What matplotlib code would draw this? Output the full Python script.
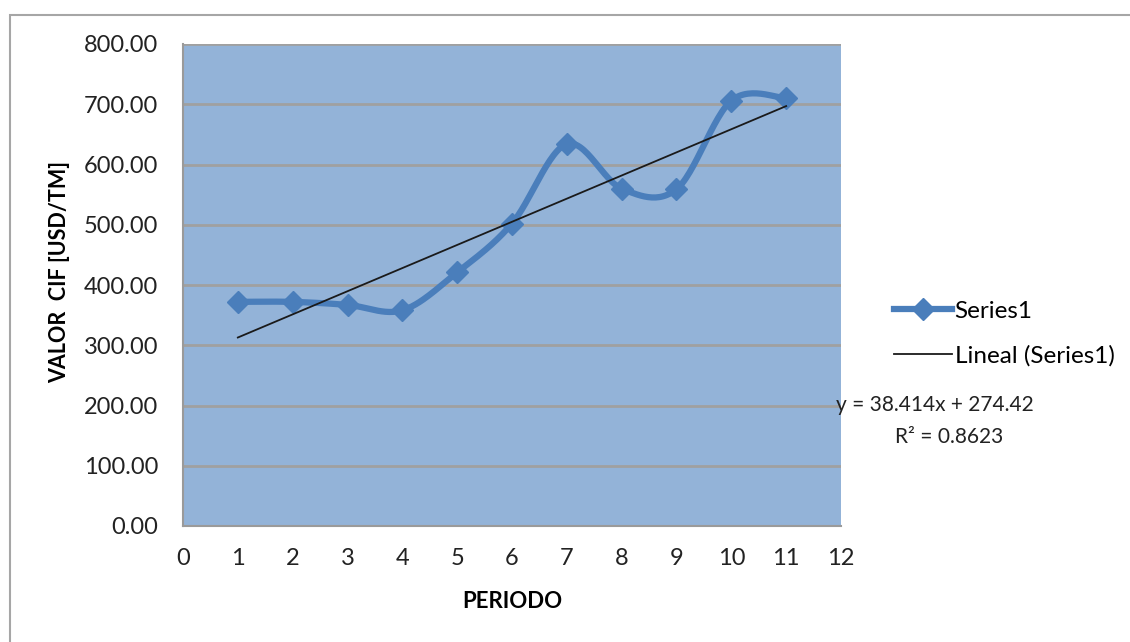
import numpy as np
import matplotlib.pyplot as plt
from matplotlib.lines import Line2D
from matplotlib.patches import Rectangle

plt.rcParams['font.family'] = ['Lato', 'DejaVu Sans']

# Datos: valor CIF por periodo
periodos = [1, 2, 3, 4, 5, 6, 7, 8, 9, 10, 11]
valor_cif = [372, 372, 367, 358, 421, 502, 634, 560, 559, 706, 710]

# Linea de tendencia (ajuste lineal)
pendiente = 38.414
intercepto = 274.42
r2 = 0.8623

y_ticks = [0, 100, 200, 300, 400, 500, 600, 700, 800]
x_ticks = list(range(0, 13))

AZUL = '#4A7EBB'
FONDO = '#93B3D8'


def curva_suave(x, y, pasos=30):
    # Suavizado tipo Catmull-Rom con curvas de Bezier cubicas
    x = np.asarray(x, float)
    y = np.asarray(y, float)
    n = len(x)
    xs, ys = [], []
    for i in range(n - 1):
        p0 = np.array([x[max(i - 1, 0)], y[max(i - 1, 0)]])
        p1 = np.array([x[i], y[i]])
        p2 = np.array([x[i + 1], y[i + 1]])
        p3 = np.array([x[min(i + 2, n - 1)], y[min(i + 2, n - 1)]])
        c1 = p1 + (p2 - p0) / 6
        c2 = p2 - (p3 - p1) / 6
        t = np.linspace(0, 1, pasos)[:, None]
        pts = ((1 - t) ** 3) * p1 + 3 * ((1 - t) ** 2) * t * c1 + 3 * (1 - t) * t ** 2 * c2 + t ** 3 * p2
        xs.extend(pts[:, 0])
        ys.extend(pts[:, 1])
    return np.array(xs), np.array(ys)


fig = plt.figure(figsize=(11.3, 6.42), dpi=100)
ax = fig.add_axes([183 / 1130, 1 - 526 / 642, 658 / 1130, 482 / 642])

# Marco exterior del grafico
fig.patches.append(Rectangle((10 / 1130, -0.1), 1.2, 1 - 15 / 642 + 0.1,
                             transform=fig.transFigure, fill=False,
                             edgecolor='#A6A6A6', linewidth=1.5))

ax.set_facecolor(FONDO)
ax.set_xlim(0, 12)
ax.set_ylim(0, 800)
ax.set_yticks(y_ticks)
ax.set_yticklabels([f'{v:.2f}' for v in y_ticks])
ax.set_xticks(x_ticks)
ax.tick_params(length=0, labelsize=17, colors='#222222')
ax.tick_params(axis='y', pad=18)
ax.tick_params(axis='x', pad=16)
ax.grid(axis='y', color='#A0A0A0', linewidth=2)
ax.set_axisbelow(True)
for lado in ['top', 'right']:
    ax.spines[lado].set_visible(False)
for lado in ['left', 'bottom']:
    ax.spines[lado].set_color('#9A9A9A')
    ax.spines[lado].set_linewidth(1.5)

xs, ys = curva_suave(periodos, valor_cif)
ax.plot(xs, ys, color=AZUL, linewidth=4.5, solid_capstyle='round', zorder=3)
ax.plot(periodos, valor_cif, linestyle='none', marker='D', markersize=11,
        color=AZUL, zorder=4)

xt = np.array([periodos[0], periodos[-1]])
ax.plot(xt, pendiente * xt + intercepto, color='#1a1a1a', linewidth=1.3, zorder=5)

ax.set_xlabel('PERIODO', fontsize=16, fontweight='bold', labelpad=16)
fig.text(60 / 1130, 1 - 272 / 642, 'VALOR  CIF [USD/TM]', fontsize=15.5,
         fontweight='bold', rotation=90, ha='center', va='center')

# Leyenda
handles = [
    Line2D([], [], color=AZUL, linewidth=4.5, marker='D', markersize=11),
    Line2D([], [], color='#1a1a1a', linewidth=1.3),
]
fig.legend(handles, ['Series1', 'Lineal (Series1)'], loc='upper left',
           bbox_to_anchor=(872 / 1130, 1 - 279 / 642), frameon=False,
           fontsize=17.5, handlelength=2.4, handletextpad=0.1, labelspacing=0.95)

fig.text(935 / 1130, 1 - 405 / 642, f'y = {pendiente}x + {intercepto}',
         fontsize=15, ha='center', va='center', color='#222222')
fig.text(949 / 1130, 1 - 437 / 642, f'R² = {r2}',
         fontsize=15, ha='center', va='center', color='#222222')

fig.savefig('out.png', dpi=100)
